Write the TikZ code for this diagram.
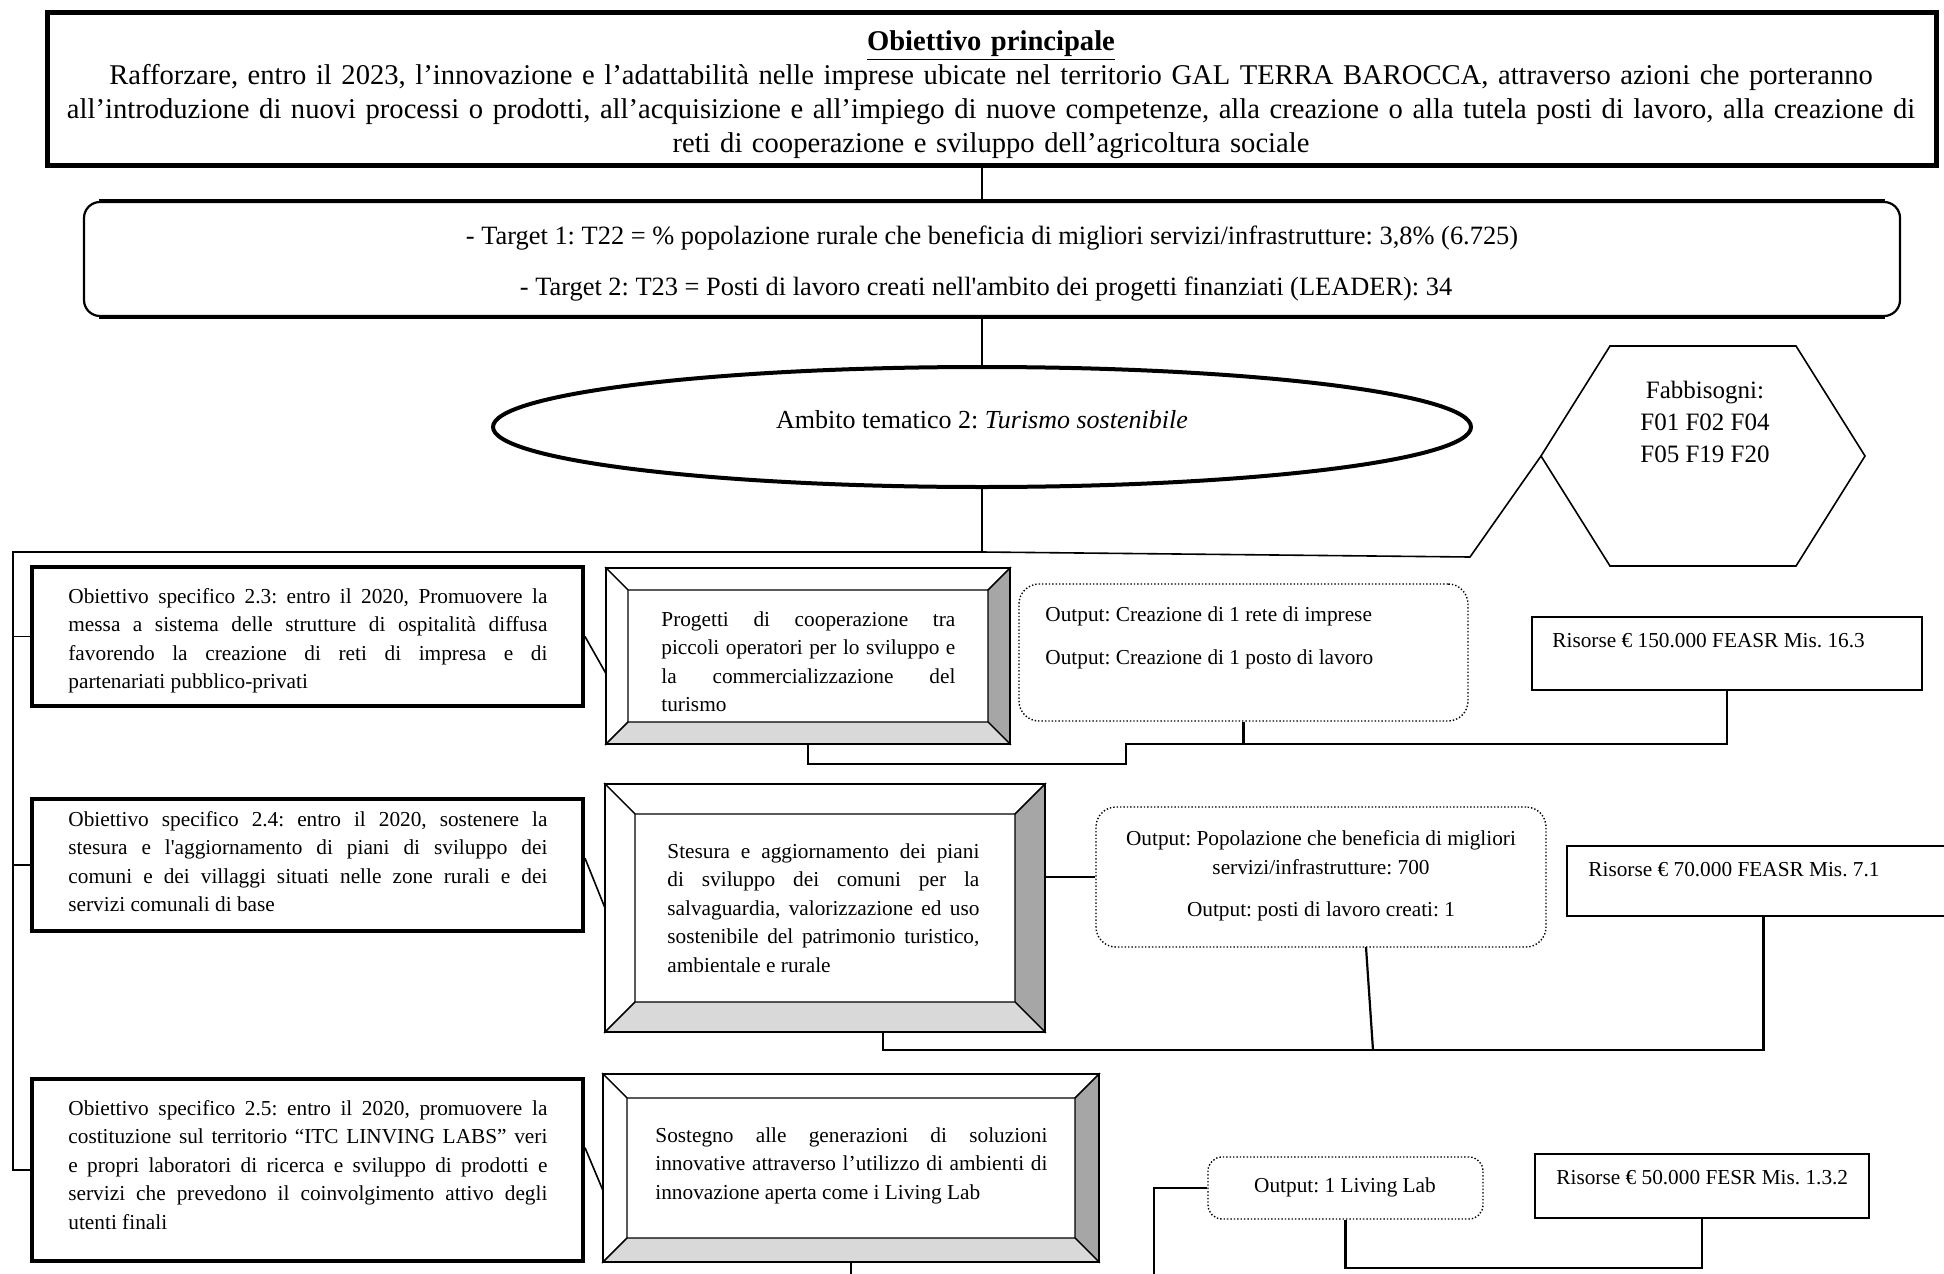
\documentclass[tikz,border=0pt]{standalone}
\usepackage{fontspec}
\setmainfont{Liberation Serif}
\newfontfamily\qfont{Liberation Serif}
\newcommand\sq{{\qfont'}}
\usetikzlibrary{shapes.geometric,fit,calc}
\definecolor{bevdark}{HTML}{A6A6A6}
\definecolor{bevlight}{HTML}{D9D9D9}
\frenchspacing
\newcommand\smallfont{\fontsize{10.65pt}{14.25pt}\selectfont}
\newcommand\bevelbox[6]{%
 \node[fit={(#2,#3)(#4,#5)}, inner sep=0pt, outer sep=0pt] (#1) {};
 \filldraw[bevline, fill=white] (#2,#3) -- (#4,#3) -- ({#4-#6},{#3+#6}) -- ({#2+#6},{#3+#6}) -- cycle;
 \filldraw[bevline, fill=white] (#2,#3) -- ({#2+#6},{#3+#6}) -- ({#2+#6},{#5-#6}) -- (#2,#5) -- cycle;
 \filldraw[bevline, fill=bevdark] (#4,#3) -- (#4,#5) -- ({#4-#6},{#5-#6}) -- ({#4-#6},{#3+#6}) -- cycle;
 \filldraw[bevline, fill=bevlight] (#2,#5) -- (#4,#5) -- ({#4-#6},{#5-#6}) -- ({#2+#6},{#5-#6}) -- cycle;
 \draw[line width=1.2pt] (#2,#3) rectangle (#4,#5);
}
\tikzset{
 bevline/.style={line width=0.7pt, draw=black},
 conn/.style={line width=0.8pt},
 conntwo/.style={line width=1.1pt},
 thickbox/.style={draw, line width=2pt, inner sep=0pt},
 resbox/.style={draw, line width=1pt, inner sep=0pt},
 outbox/.style={draw, densely dotted, line width=0.7pt, rounded corners=10pt, inner sep=0pt},
 smalltxt/.style={font=\smallfont, inner sep=0pt},
 jtxt/.style={smalltxt, align=justify, anchor=north west},
}
\begin{document}
\begin{tikzpicture}[x=0.5pt, y=-0.5pt]
\useasboundingbox (0,0) rectangle (1944,1274);
\fill[white] (0,0) rectangle (1944,1274);
\clip (0,0) rectangle (1944,1274);

% main objective
\node[fit={(47,12)(1936,165)}, draw, line width=2.5pt, inner sep=0pt] (top) {};
\node[anchor=north, inner sep=0pt, text width=960pt, align=center,
      font=\fontsize{14.3pt}{17.1pt}\selectfont] (topt) at (991,30)
 {\textbf{\underline{Obiettivo principale}}\\
  Rafforzare, entro il 2023, l'innovazione e l'adattabilità nelle imprese ubicate nel territorio GAL TERRA BAROCCA, attraverso azioni che porteranno\\
  all'introduzione di nuovi processi o prodotti, all'acquisizione e all'impiego di nuove competenze, alla creazione o alla tutela posti di lavoro, alla creazione di\\
  reti di cooperazione e sviluppo dell'agricoltura sociale};

% targets
\node[fit={(84,202)(1900,316)}, draw, rounded corners=8pt, line width=1.1pt, inner sep=0pt] (tgt) {};
\draw[line width=2pt] ($(tgt.north west)+(16,0)$) -- ($(tgt.north east)+(-16,0)$);
\draw[line width=2pt] ($(tgt.south west)+(16,0)$) -- ($(tgt.south east)+(-16,0)$);
\node[font=\fontsize{13.2pt}{15pt}\selectfont, inner sep=0pt] (t1) at (992,238)
 {- Target 1: T22 = \% popolazione rurale che beneficia di migliori servizi/infrastrutture: 3,8\% (6.725)};
\node[font=\fontsize{13.2pt}{15pt}\selectfont, inner sep=0pt] (t2) at (986,289)
 {- Target 2: T23 = Posti di lavoro creati nell\sq ambito dei progetti finanziati (LEADER): 34};

% ambito
\node[ellipse, draw, line width=2pt, minimum width=489pt, minimum height=60pt, inner sep=0pt] (ell) at (982,427) {};
\node[font=\fontsize{13pt}{15pt}\selectfont, inner sep=0pt] (ellt) at (982,420)
 {Ambito tematico 2: \textit{Turismo sostenibile}};

% fabbisogni hexagon
\draw[line width=0.8pt] (1610,346) -- (1796,346) -- (1865,456) -- (1796,566) -- (1610,566) -- (1541,456) -- cycle;
\coordinate (hexL) at (1541,456);
\node[anchor=north, inner sep=0pt, align=center, font=\fontsize{12.5pt}{16pt}\selectfont] (hext) at (1705,381)
 {Fabbisogni:\\F01 F02 F04\\F05 F19 F20};

% objective boxes
\node[fit={(32,567)(583,706)}, thickbox] (o23) {};
\node[fit={(32,799)(583,931)}, thickbox] (o24) {};
\node[fit={(32,1079)(583,1261)}, thickbox] (o25) {};
\node[jtxt, text width=239.5pt] (o23t) at (68,588)
 {Obiettivo specifico 2.3: entro il 2020, Promuovere la\linebreak
  messa a sistema delle strutture di ospitalità diffusa\linebreak
  favorendo la creazione di reti di impresa e di\linebreak
  partenariati pubblico-privati};
\node[jtxt, text width=239.5pt] (o24t) at (68,811)
 {Obiettivo specifico 2.4: entro il 2020, sostenere la\linebreak
  stesura e l\sq aggiornamento di piani di sviluppo dei\linebreak
  comuni e dei villaggi situati nelle zone rurali e dei\linebreak
  servizi comunali di base};
\node[jtxt, text width=239.5pt] (o25t) at (68,1100)
 {Obiettivo specifico 2.5: entro il 2020, promuovere la\linebreak
  costituzione sul territorio ``ITC LINVING LABS'' veri\linebreak
  e propri laboratori di ricerca e sviluppo di prodotti e\linebreak
  servizi che prevedono il coinvolgimento attivo degli\linebreak
  utenti finali};

% action boxes
\bevelbox{A1}{606}{568}{1010}{744}{22}
\bevelbox{A2}{605}{784}{1045}{1032}{30}
\bevelbox{A3}{603}{1074}{1099}{1262}{24}
\node[jtxt, text width=147pt] (A1t) at (661,611)
 {Progetti di cooperazione tra\linebreak
  piccoli operatori per lo sviluppo e\linebreak
  la commercializzazione del\linebreak
  turismo};
\node[jtxt, text width=156pt] (A2t) at (667,843)
 {Stesura e aggiornamento dei piani\linebreak
  di sviluppo dei comuni per la\linebreak
  salvaguardia, valorizzazione ed uso\linebreak
  sostenibile del patrimonio turistico,\linebreak
  ambientale e rurale};
\node[jtxt, text width=196pt] (A3t) at (655,1127)
 {Sostegno alle generazioni di soluzioni\linebreak
  innovative attraverso l'utilizzo di ambienti di\linebreak
  innovazione aperta come i Living Lab};

% output boxes
\node[fit={(1019,584)(1468,721)}, outbox] (O1) {};
\node[fit={(1096,807)(1546,947)}, outbox] (O2) {};
\node[fit={(1208,1157)(1483,1219)}, outbox, rounded corners=7pt] (O3) {};
\node[smalltxt, anchor=west] (O1t1) at (1045,616) {Output: Creazione di 1 rete di imprese};
\node[smalltxt, anchor=west] (O1t2) at (1045,659) {Output: Creazione di 1 posto di lavoro};
\node[smalltxt, align=center, font=\fontsize{10.65pt}{14.5pt}\selectfont] (O2t1) at (1321,853)
 {Output: Popolazione che beneficia di migliori\\servizi/infrastrutture: 700};
\node[smalltxt] (O2t2) at (1321,911) {Output: posti di lavoro creati: 1};
\node[smalltxt] (O3t) at (1345,1187) {Output: 1 Living Lab};

% resources
\node[fit={(1532,617)(1922,690)}, resbox] (R1) {};
\node[fit={(1567,846)(1960,916)}, resbox] (R2) {};
\node[fit={(1535,1154)(1869,1218)}, resbox] (R3) {};
\node[smalltxt, anchor=west] (R1t) at (1552,641) {Risorse € 150.000 FEASR Mis. 16.3};
\node[smalltxt, anchor=west] (R2t) at (1588,870) {Risorse € 70.000 FEASR Mis. 7.1};
\node[smalltxt, anchor=west] (R3t) at (1556,1178) {Risorse € 50.000 FESR Mis. 1.3.2};

% trunk connectors
\coordinate (j0) at (982,552);
\coordinate (tl) at (13,552);
\coordinate (jh) at (1470,557);
\draw[conn] (top.south -| ell.center) -- (tgt.north -| ell.center);
\draw[conn] (tgt.south -| ell.center) -- (ell.north);
\draw[conn] (ell.south) -- (j0);
\draw[conn] (j0) -- (tl) -- (tl |- o25.west) -- (o25.west);
\draw[conn] (j0) -- (jh) -- (hexL);
\draw[conn] (tl |- o23.west) -- (o23.west);
\draw[conn] (tl |- o24.west) -- (o24.west);

% objective -> action
\draw[conn] (o23.east) -- ($(A1.north west)!0.6!(A1.south west)$);
\draw[conn] ($(o24.north east)!0.45!(o24.south east)$) -- (A2.west);
\draw[conn] ($(o25.north east)!0.38!(o25.south east)$) -- ($(A3.north west)!0.62!(A3.south west)$);

% row 1
\coordinate (s1a) at (1126,764);
\coordinate (s1b) at (1126,744);
\draw[conntwo] (A1.south) |- (s1a) -- (s1b) -| (R1.south);
\draw[conntwo] (O1.south) -- (O1.south |- s1b);

% row 2
\coordinate (s2a) at (883,1050);
\coordinate (o2b) at (1366,947);
\coordinate (s2o) at (1373,1050);
\draw[conn] (A2.east |- O2.west) -- (O2.west);
\draw[conntwo] (A2.south -| s2a) -- (s2a) -| (R2.south);
\draw[conntwo] (o2b) -- (s2o);

% row 3
\coordinate (e3) at (851,1290);
\coordinate (e3b) at (1154,1290);
\coordinate (s3) at (1346,1268);
\draw[conntwo] (A3.south) -- (e3);
\draw[conntwo] (O3.west) -| (e3b);
\draw[conntwo] (O3.south) -- (O3.south |- s3) -| (R3.south);
\end{tikzpicture}
\end{document}
